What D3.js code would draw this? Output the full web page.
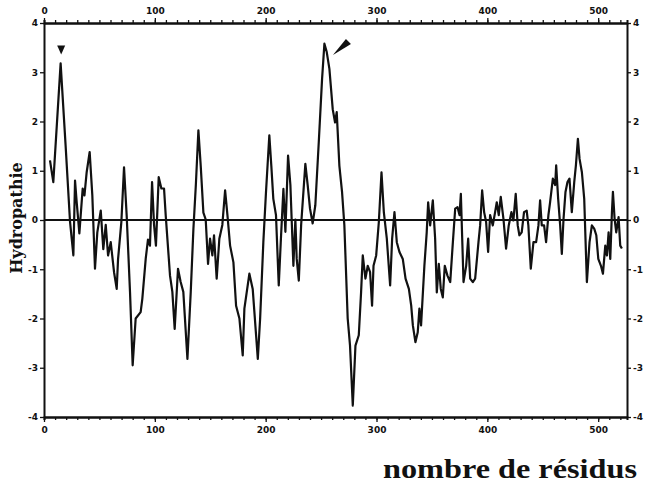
<!DOCTYPE html>
<html>
<head>
<meta charset="utf-8">
<script src="https://cdn.jsdelivr.net/npm/d3@7"></script>
<style>
  body { margin: 0; background: #fff; }
  svg { display: block; }
</style>
</head>
<body>
<svg id="chart" width="655" height="489"></svg>
<script>
// residue positions and hydropathy values
const residues = [5.4, 8.4, 15, 19.5, 23.5, 26.5, 28, 29.5, 31.9, 34.9, 36.5, 38.5, 41.2, 43.6, 46, 48.1, 51.2, 53.5, 55.7, 57.8,
  60.2, 63.2, 65.6, 66.8, 69.8, 72.2, 74.6, 77.6, 80, 82.7, 87.2, 88.7, 91.8, 93.8, 95.6, 97.5, 99.3, 101, 103.5, 105.9,
  108.3, 109.8, 113.7, 115.8, 117.9, 120.9, 123.3, 125.7, 129.4, 132.4, 134.8, 137, 139.3, 141.4, 143.8, 145.9, 148, 149.8, 151.9, 153.4,
  155.8, 158.2, 160.9, 163.4, 165.5, 167.9, 170.9, 173.3, 176.3, 179.3, 180.8, 185.3, 188.3, 192.9, 195, 197.9, 200.3, 203.3, 205.1, 206.9,
  209.3, 211.8, 213.9, 216, 217.8, 220.2, 222.3, 225, 226.8, 228, 229.9, 232, 235.8, 237.9, 240, 242.4, 244.8, 247.9, 250.9, 253,
  255.1, 257.5, 260.5, 262.6, 264.1, 266.5, 268.9, 271, 274, 276.1, 278.6, 281, 284, 286.1, 287.6, 290, 292.1, 294.2, 296, 297.3,
  299.7, 302.1, 304.5, 306.6, 309.3, 312.3, 314.1, 316.2, 318.3, 320.7, 323.7, 326.2, 329.2, 331.3, 332.8, 335.1, 337.2, 338.7, 340.2, 343.2,
  345.3, 346.6, 348.4, 350.8, 352.9, 354.4, 356.2, 358, 359.8, 361.6, 364, 366.5, 368.9, 371, 373.1, 374.9, 376.1, 378.5, 380.9, 382.7,
  384.5, 386.9, 389, 392, 393.5, 395.3, 397.1, 398.9, 400.7, 402.5, 404.9, 407, 408.5, 410.3, 412.1, 414.5, 416.9, 419.3, 421.7, 423.5,
  425.6, 427.4, 428.9, 431, 433.1, 435.5, 437, 439.2, 441.6, 444, 446.1, 447.6, 449.1, 451.2, 453, 455.1, 456.6, 459.1, 461.2, 462.1,
  463.9, 465.7, 467.2, 468.7, 470.5, 472.3, 474.1, 476.2, 478.4, 479.9, 481.7, 483.2, 485.3, 487.4, 489.8, 492.2, 494.3, 496.5, 498.3, 500.1,
  502.5, 504.3, 506.4, 507.9, 509.4, 510.9, 512.4, 513.3, 514.8, 516.3, 518.4, 519.9, 521.4];
const hydropathy = [1.21, 0.77, 3.18, 1.51, -0.04, -0.72, 0.80, 0.36, -0.27, 0.64, 0.5, 0.97, 1.38, 0.50, -0.99, -0.25, 0.19, -0.59, -0.1, -0.72,
  -0.45, -1.06, -1.40, -0.8, -0.04, 1.07, 0.09, -1.46, -2.95, -2.0, -1.87, -1.6, -0.78, -0.40, -0.52, 0.77, -0.1, -0.52, 0.87, 0.64,
  0.64, 0.10, -1.13, -1.46, -2.21, -0.99, -1.26, -1.46, -2.82, -1.46, -0.18, 0.71, 1.82, 1.10, 0.15, 0.01, -0.89, -0.38, -0.72, -0.31,
  -1.19, -0.38, -0.1, 0.60, 0.10, -0.52, -0.86, -1.74, -2.0, -2.75, -1.8, -1.09, -1.4, -2.82, -2.0, -0.45, 0.57, 1.72, 1.1, 0.43,
  0.1, -1.33, -0.31, 0.63, -0.24, 1.31, 0.71, -0.93, 0.01, -0.79, -1.23, -0.1, 1.14, 0.71, 0.23, -0.07, 0.3, 1.58, 2.87, 3.58,
  3.41, 3.07, 2.25, 1.98, 2.19, 1.10, 0.57, -0.11, -2.0, -2.55, -3.77, -2.55, -2.34, -1.46, -0.72, -1.19, -0.93, -1.06, -1.74, -0.93,
  -0.72, -0.04, 0.97, 0.16, -0.38, -1.33, -0.38, 0.16, -0.45, -0.65, -0.79, -1.19, -1.40, -1.74, -2.14, -2.48, -2.28, -1.8, -2.14, -0.93,
  -0.25, 0.36, -0.11, 0.40, -0.38, -1.47, -0.89, -1.4, -1.57, -0.93, -1.13, -1.26, -0.45, 0.23, 0.26, 0.10, 0.53, -1.26, -0.93, -0.38,
  -1.19, -1.26, -1.19, -0.45, -0.11, 0.60, 0.16, -0.04, -0.65, 0.10, -0.11, 0.16, 0.36, 0.10, 0.47, 0.03, -0.58, -0.11, 0.16, -0.01,
  0.53, -0.11, -0.31, -0.25, 0.16, 0.19, -0.11, -0.99, -0.45, -0.45, -0.11, 0.40, -0.11, -0.11, -0.45, 0.10, 0.36, 0.84, 0.71, 1.11,
  0.43, -0.11, -0.69, 0.01, 0.57, 0.77, 0.84, 0.16, 0.77, 1.11, 1.65, 1.24, 0.97, 0.43, -1.26, -0.45, -0.11, -0.18, -0.31, -0.79,
  -0.93, -1.09, -0.52, -0.72, -0.25, -0.79, 0.16, 0.57, 0.03, -0.25, 0.06, -0.52, -0.58];
const xTicks = [0, 100, 200, 300, 400, 500];
const yTicks = [-4, -3, -2, -1, 0, 1, 2, 3, 4];

const svg = d3.select('#chart');
const mLeft = 44, mRight = 627, mTop = 23, mBottom = 417;

const x = d3.scaleLinear().domain([0, 526]).range([mLeft, mRight]);
const y = d3.scaleLinear().domain([-4, 4]).range([mBottom, mTop]);

const tickFont = 'DejaVu Sans, sans-serif';

function styleAxis(g) {
  g.select('.domain').attr('stroke', '#111').attr('stroke-width', 2);
  g.selectAll('.tick line').attr('stroke', '#111').attr('stroke-width', 1.3);
  g.selectAll('.tick text')
    .attr('font-family', tickFont)
    .attr('font-weight', 'bold')
    .attr('font-size', 9)
    .attr('fill', '#111');
}

// minor ticks every 10 residues
const minor = d3.range(0, 526, 10);
svg.append('g')
  .attr('transform', `translate(0,${mBottom})`)
  .call(d3.axisBottom(x).tickValues(minor).tickSize(3).tickFormat(''))
  .call(styleAxis);
svg.append('g')
  .attr('transform', `translate(0,${mTop})`)
  .call(d3.axisTop(x).tickValues(minor).tickSize(3).tickFormat(''))
  .call(styleAxis);

svg.append('g')
  .attr('transform', `translate(0,${mBottom})`)
  .call(d3.axisBottom(x).tickValues(xTicks).tickSize(5).tickPadding(5).tickSizeOuter(0))
  .call(styleAxis);
svg.append('g')
  .attr('transform', `translate(0,${mTop})`)
  .call(d3.axisTop(x).tickValues(xTicks).tickSize(5).tickPadding(4).tickSizeOuter(0))
  .call(styleAxis);

const fmt = d => d < 0 ? '-' + Math.abs(d) : String(d);
svg.append('g')
  .attr('transform', `translate(${mLeft},0)`)
  .call(d3.axisLeft(y).tickValues(yTicks).tickSize(4).tickPadding(2).tickSizeOuter(0).tickFormat(fmt))
  .call(styleAxis);
svg.append('g')
  .attr('transform', `translate(${mRight},0)`)
  .call(d3.axisRight(y).tickValues(yTicks).tickSize(4).tickPadding(2).tickSizeOuter(0).tickFormat(fmt))
  .call(styleAxis);

// zero line
svg.append('line')
  .attr('x1', mLeft).attr('x2', mRight)
  .attr('y1', y(0)).attr('y2', y(0))
  .attr('stroke', '#111')
  .attr('stroke-width', 2);

const points = residues.map((r, i) => [r, hydropathy[i]]);
const line = d3.line().x(d => x(d[0])).y(d => y(d[1]));

svg.append('path')
  .datum(points)
  .attr('d', line)
  .attr('fill', 'none')
  .attr('stroke', '#111')
  .attr('stroke-width', 2.2)
  .attr('stroke-linejoin', 'round');

// markers: triangle over first peak, arrow at main peak
const tx = x(15.5), ty = y(3.18) - 9;
svg.append('path')
  .attr('d', `M${tx - 4},${ty - 9}L${tx + 4},${ty - 9}L${tx},${ty}Z`)
  .attr('fill', '#111');

const ax = x(258), ay = y(3.45);
svg.append('path')
  .attr('d', `M${ax + 3},${ay + 5}L${ax + 16},${ay - 11}L${ax + 21},${ay - 6}Z`)
  .attr('fill', '#111');

// axis titles
svg.append('text')
  .attr('transform', 'translate(22,218) rotate(-90)')
  .attr('text-anchor', 'middle')
  .attr('font-family', 'DejaVu Serif, serif')
  .attr('font-weight', 'bold')
  .attr('font-size', 16)
  .attr('fill', '#111')
  .text('Hydropathie');

svg.append('text')
  .attr('x', 383)
  .attr('y', 478)
  .attr('font-family', 'Liberation Serif, serif')
  .attr('font-weight', 'bold')
  .attr('font-size', 27)
  .attr('textLength', 254)
  .attr('lengthAdjust', 'spacingAndGlyphs')
  .attr('fill', '#111')
  .text('nombre de résidus');
</script>
</body>
</html>
